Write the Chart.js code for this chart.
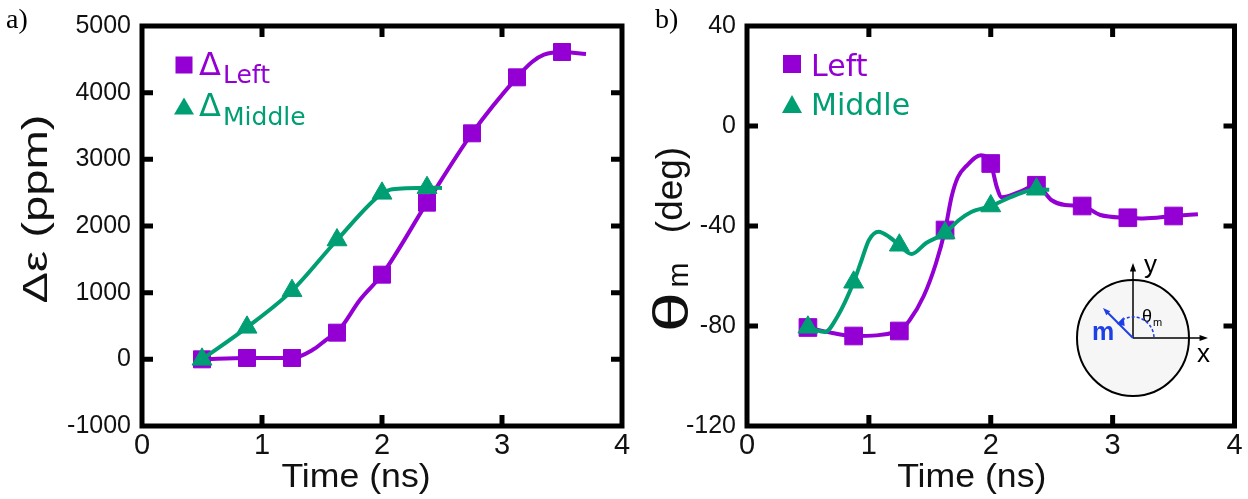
<!DOCTYPE html>
<html lang="en">
<head>
<meta charset="UTF-8" />
<title>Strain and magnetization angle vs time</title>
<script src="https://cdn.jsdelivr.net/npm/chart.js"></script>
<style>
  html, body { margin: 0; padding: 0; background: #fff; }
  #wrap { position: relative; width: 1248px; height: 499px; }
  canvas { position: absolute; top: 0; }
  #strainChart { left: 0; }
  #angleChart { left: 640px; }
</style>
</head>
<body>
<div id="wrap">
  <canvas id="strainChart" width="640" height="499"></canvas>
  <canvas id="angleChart" width="608" height="499"></canvas>
</div>

<script>
  // sample times (ns) where the markers sit
  const timeLeft = [0.5, 0.875, 1.25, 1.625, 2.0, 2.375, 2.75, 3.125, 3.5];
  const timeMiddle = [0.5, 0.875, 1.25, 1.625, 2.0, 2.375];

  // a) strain difference (ppm)
  const strainLeft = [0, 20, 20, 400, 1270, 2350, 3390, 4230, 4610];
  const strainMiddle = [0, 480, 1030, 1790, 2490, 2575];
  // smoothed traces through the samples
  const strainLeftCurveT = [0.5, 0.875, 1.25, 1.43, 1.54, 1.625, 1.82, 2.0, 2.375, 2.75, 3.125, 3.25, 3.35, 3.5, 3.7];
  const strainLeftCurve = [0, 20, 20, 150, 300, 400, 900, 1270, 2350, 3390, 4230, 4460, 4570, 4610, 4580];
  const strainMiddleCurveT = [0.5, 0.875, 1.25, 1.625, 2.0, 2.07, 2.2, 2.375, 2.5];
  const strainMiddleCurve = [0, 480, 1030, 1790, 2490, 2545, 2565, 2575, 2570];

  // b) magnetization angle (deg)
  const angleLeft = [-80.6, -84, -82, -41.6, -15, -23.7, -32, -36.7, -36];
  const angleMiddle = [-80.5, -62.5, -47.7, -42.8, -32, -25.3];
  const angleLeftCurveT = [0.5, 0.7, 0.875, 1.25, 1.33, 1.45, 1.55, 1.625, 1.68, 1.73, 1.8, 1.92, 2.0, 2.05, 2.09, 2.23, 2.375, 2.5, 2.61, 2.75, 2.9, 3.125, 3.25, 3.5, 3.7];
  const angleLeftCurve = [-80.6, -82.8, -84, -82, -78, -68, -55, -41.6, -28, -20.5, -16, -11.7, -15, -24.5, -28.5, -26.5, -23.7, -29.7, -31.6, -32, -35.6, -36.7, -37, -36, -35.3];
  const angleMiddleCurveT = [0.5, 0.64, 0.74, 0.875, 0.94, 1.0, 1.08, 1.17, 1.25, 1.35, 1.47, 1.625, 1.74, 1.84, 2.0, 2.2, 2.375, 2.48];
  const angleMiddleCurve = [-80.5, -82.4, -76.4, -62.5, -53.7, -45.7, -42.3, -44.5, -47.7, -51.2, -46.8, -42.8, -37.6, -34.4, -32, -27.7, -25.3, -25.5];

  // tick labels
  const timeTicks = [0, 1, 2, 3, 4];
  const strainTicks = [-1000, 0, 1000, 2000, 3000, 4000, 5000];
  const angleTicks = [-120, -80, -40, 0, 40];

  const PURPLE = '#9400d3';
  const GREEN = '#009e73';
  const INK = '#111';
  const SANS = "'Liberation Sans', Arial, sans-serif";
  const NARROW = "'Liberation Sans Narrow', 'Liberation Sans', Arial, sans-serif";
  const DEJA = "'DejaVu Sans', sans-serif";
  const SERIF = "'Liberation Serif', 'Times New Roman', serif";
  const TICK = 11;

  const pts = (xs, ys) => xs.map((x, i) => ({ x, y: ys[i] }));

  function curve(xs, ys, color, order) {
    return {
      data: pts(xs, ys), showLine: true, borderColor: color, borderWidth: 4,
      pointRadius: 0, cubicInterpolationMode: 'monotone', fill: false, order
    };
  }

  function marks(xs, ys, color, style, radius, order) {
    return {
      data: pts(xs, ys), showLine: false, pointStyle: style, pointRadius: radius,
      backgroundColor: color, borderColor: color, borderWidth: 1, order
    };
  }

  function text(ctx, str, x, y, font, color, opt = {}) {
    ctx.save();
    ctx.translate(x, y);
    if (opt.rotate) ctx.rotate(opt.rotate);
    ctx.scale(opt.stretch || 1, 1);
    ctx.font = font;
    ctx.fillStyle = color;
    ctx.textAlign = opt.align || 'left';
    ctx.textBaseline = 'alphabetic';
    ctx.fillText(str, 0, 0);
    ctx.restore();
  }

  function square(ctx, cx, cy, s, color) {
    ctx.fillStyle = color;
    ctx.fillRect(cx - s / 2, cy - s / 2, s, s);
  }

  function triangle(ctx, cx, cy, w, h, color) {
    ctx.fillStyle = color;
    ctx.beginPath();
    ctx.moveTo(cx, cy - h / 2);
    ctx.lineTo(cx + w / 2, cy + h / 2);
    ctx.lineTo(cx - w / 2, cy + h / 2);
    ctx.closePath();
    ctx.fill();
  }

  function arrow(ctx, x0, y0, x1, y1, color, width, head) {
    const a = Math.atan2(y1 - y0, x1 - x0);
    ctx.strokeStyle = color;
    ctx.fillStyle = color;
    ctx.lineWidth = width;
    ctx.beginPath();
    ctx.moveTo(x0, y0);
    ctx.lineTo(x1 - Math.cos(a) * head * 0.8, y1 - Math.sin(a) * head * 0.8);
    ctx.stroke();
    ctx.beginPath();
    ctx.moveTo(x1, y1);
    ctx.lineTo(x1 - head * Math.cos(a - 0.35), y1 - head * Math.sin(a - 0.35));
    ctx.lineTo(x1 - head * Math.cos(a + 0.35), y1 - head * Math.sin(a + 0.35));
    ctx.closePath();
    ctx.fill();
  }

  // heavy box with inward ticks on all four sides
  const frame = {
    id: 'frame',
    afterDatasetsDraw(chart) {
      const { ctx, chartArea: a, scales: { x, y } } = chart;
      ctx.save();
      ctx.strokeStyle = '#000';
      ctx.lineWidth = 5;
      ctx.lineCap = 'butt';
      ctx.strokeRect(a.left, a.top, a.right - a.left, a.bottom - a.top);
      ctx.beginPath();
      x.ticks.forEach(t => {
        const p = x.getPixelForValue(t.value);
        if (p <= a.left + 2 || p >= a.right - 2) return;
        ctx.moveTo(p, a.bottom); ctx.lineTo(p, a.bottom - TICK);
        ctx.moveTo(p, a.top); ctx.lineTo(p, a.top + TICK);
      });
      y.ticks.forEach(t => {
        const p = y.getPixelForValue(t.value);
        if (p <= a.top + 2 || p >= a.bottom - 2) return;
        ctx.moveTo(a.left, p); ctx.lineTo(a.left + TICK, p);
        ctx.moveTo(a.right, p); ctx.lineTo(a.right - TICK, p);
      });
      ctx.stroke();
      ctx.restore();
    }
  };

  function axes(yMin, yMax, yTicks, yWidth) {
    return {
      x: {
        type: 'linear', min: 0, max: 4,
        afterBuildTicks: s => { s.ticks = timeTicks.map(v => ({ value: v })); },
        afterFit: s => { s.height = 73; },
        ticks: { font: { family: NARROW, size: 29 }, color: INK, padding: 3, maxRotation: 0, autoSkip: false, callback: v => String(v) },
        grid: { display: false, drawTicks: false },
        border: { display: false }
      },
      y: {
        type: 'linear', min: yMin, max: yMax,
        afterBuildTicks: s => { s.ticks = yTicks.map(v => ({ value: v })); },
        afterFit: s => { s.width = yWidth; },
        ticks: { font: { family: SANS, size: 25 }, color: INK, padding: 11, autoSkip: false, callback: v => String(v) },
        grid: { display: false, drawTicks: false },
        border: { display: false }
      }
    };
  }

  const common = {
    responsive: false,
    animation: false,
    devicePixelRatio: 1,
    plugins: { legend: { display: false }, tooltip: { enabled: false } },
    events: []
  };

  // a) strain panel
  const strainDecor = {
    id: 'strainDecor',
    afterDraw(chart) {
      const ctx = chart.ctx;
      const a = chart.chartArea;
      ctx.save();
      text(ctx, 'a)', 6, 28, `28px ${SERIF}`, '#000');
      text(ctx, 'Time (ns)', (a.left + a.right) / 2 - 26, 487, `33px ${SANS}`, INK, { align: 'center', stretch: 1.08 });
      text(ctx, 'Δε (ppm)', 47, 209, `35px ${SANS}`, INK, { align: 'center', rotate: -Math.PI / 2, stretch: 1.35 });

      square(ctx, 184, 65, 17, PURPLE);
      text(ctx, 'Δ', 199, 75, `32px ${DEJA}`, PURPLE);
      text(ctx, 'Left', 223, 83, `25px ${DEJA}`, PURPLE);
      triangle(ctx, 184, 106, 20, 17, GREEN);
      text(ctx, 'Δ', 199, 116, `32px ${DEJA}`, GREEN);
      text(ctx, 'Middle', 223, 125, `25px ${DEJA}`, GREEN);
      ctx.restore();
    }
  };

  new Chart(document.getElementById('strainChart'), {
    type: 'scatter',
    data: {
      datasets: [
        marks(timeMiddle, strainMiddle, GREEN, 'triangle', 11.5, 0),
        curve(strainMiddleCurveT, strainMiddleCurve, GREEN, 1),
        marks(timeLeft, strainLeft, PURPLE, 'rect', 12, 2),
        curve(strainLeftCurveT, strainLeftCurve, PURPLE, 3)
      ]
    },
    options: {
      ...common,
      layout: { padding: { top: 25, right: 18, left: 0, bottom: 0 } },
      scales: axes(-1000, 5000, strainTicks, 142)
    },
    plugins: [frame, strainDecor]
  });

  // b) angle panel
  const angleDecor = {
    id: 'angleDecor',
    afterDraw(chart) {
      const ctx = chart.ctx;
      const a = chart.chartArea;
      ctx.save();
      text(ctx, 'b)', 15, 28, `28px ${SERIF}`, '#000');
      text(ctx, 'Time (ns)', (a.left + a.right) / 2 - 19, 487, `33px ${SANS}`, INK, { align: 'center', stretch: 1.08 });
      text(ctx, 'θ', 48, 312, `50px ${SANS}`, INK, { align: 'center', rotate: -Math.PI / 2, stretch: 1.45 });
      text(ctx, 'm', 48, 275, `30px ${SANS}`, INK, { align: 'center', rotate: -Math.PI / 2 });
      text(ctx, '(deg)', 42, 190, `37px ${SANS}`, INK, { align: 'center', rotate: -Math.PI / 2 });

      square(ctx, 152, 64, 18, PURPLE);
      text(ctx, 'Left', 171, 76, `30px ${DEJA}`, PURPLE);
      triangle(ctx, 152, 104, 20, 18, GREEN);
      text(ctx, 'Middle', 171, 115, `30px ${DEJA}`, GREEN);

      // inset: film disc with in-plane axes and the magnetization vector
      const cx = 493, cy = 338;
      ctx.fillStyle = '#f6f6f6';
      ctx.strokeStyle = '#000';
      ctx.lineWidth = 2;
      ctx.beginPath();
      ctx.ellipse(cx, cy, 56, 58, 0, 0, Math.PI * 2);
      ctx.fill();
      ctx.stroke();
      arrow(ctx, cx, cy, cx, 263, '#000', 1.5, 9);
      arrow(ctx, cx, cy, 568, cy, '#000', 1.5, 9);
      text(ctx, 'y', 504, 273, `26px ${SANS}`, '#000');
      text(ctx, 'x', 557, 362, `26px ${SANS}`, '#000');
      text(ctx, 'θ', 502, 322, `18px ${SANS}`, '#000');
      text(ctx, 'm', 513, 326, `11px ${SANS}`, '#000');

      const BLUE = '#1f3fe6';
      arrow(ctx, cx, cy, 463, 308, BLUE, 2, 8);
      ctx.setLineDash([3, 2]);
      ctx.lineWidth = 1.5;
      ctx.strokeStyle = BLUE;
      ctx.beginPath();
      ctx.arc(cx, cy, 21, -0.05, -Math.PI * 0.66, true);
      ctx.stroke();
      ctx.setLineDash([]);
      const ea = -Math.PI * 0.7;
      const ex = cx + 21 * Math.cos(ea), ey = cy + 21 * Math.sin(ea);
      ctx.fillStyle = BLUE;
      ctx.beginPath();
      ctx.moveTo(ex - 4, ey + 3);
      ctx.lineTo(ex + 3, ey - 4);
      ctx.lineTo(ex + 4, ey + 5);
      ctx.closePath();
      ctx.fill();
      text(ctx, 'm', 452, 340, `bold 25px ${SANS}`, BLUE);
      ctx.restore();
    }
  };

  new Chart(document.getElementById('angleChart'), {
    type: 'scatter',
    data: {
      datasets: [
        marks(timeMiddle, angleMiddle, GREEN, 'triangle', 11.5, 0),
        curve(angleMiddleCurveT, angleMiddleCurve, GREEN, 1),
        marks(timeLeft, angleLeft, PURPLE, 'rect', 12.5, 2),
        curve(angleLeftCurveT, angleLeftCurve, PURPLE, 3)
      ]
    },
    options: {
      ...common,
      layout: { padding: { top: 25, right: 11, left: 0, bottom: 0 } },
      scales: axes(-120, 40, angleTicks, 107)
    },
    plugins: [frame, angleDecor]
  });
</script>
</body>
</html>
